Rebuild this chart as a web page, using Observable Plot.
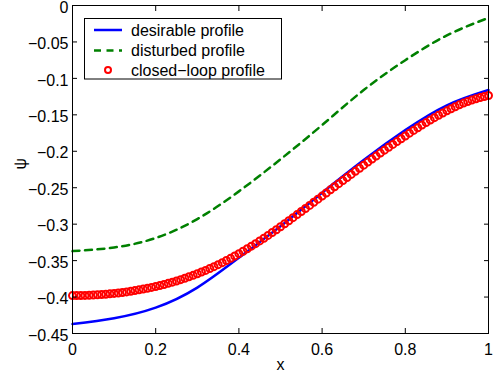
<!DOCTYPE html>
<html><head><meta charset="utf-8">
<script src="https://cdn.jsdelivr.net/npm/d3@7"></script>
<script src="https://cdn.jsdelivr.net/npm/@observablehq/plot@0.6"></script>
<style>
body{margin:0;background:#fff}
#chart{position:relative;width:495px;height:377px}
</style>
</head><body><div id="chart"></div>
<script>
const xTicks = [0, 0.2, 0.4, 0.6, 0.8, 1];
const yTicks = [0, -0.05, -0.1, -0.15, -0.2, -0.25, -0.3, -0.35, -0.4, -0.45];
const seriesNames = ["desirable profile", "disturbed profile", "closed\u2212loop profile"];
const xLabel = "x";
const yLabel = "\u03c8";

const xCoarse = [0, 0.1, 0.2, 0.3, 0.4, 0.5, 0.6, 0.7, 0.8, 0.9, 1];
const desirable = [-0.437, -0.429, -0.4145, -0.387, -0.346, -0.303, -0.257, -0.212, -0.171, -0.137, -0.116];
const disturbed = [-0.337, -0.332, -0.319, -0.293, -0.255, -0.211, -0.164, -0.116, -0.075, -0.041, -0.017];

const xFine = [0,0.01,0.02,0.03,0.04,0.05,0.06,0.07,0.08,0.09,
  0.1,0.11,0.12,0.13,0.14,0.15,0.16,0.17,0.18,0.19,
  0.2,0.21,0.22,0.23,0.24,0.25,0.26,0.27,0.28,0.29,
  0.3,0.31,0.32,0.33,0.34,0.35,0.36,0.37,0.38,0.39,
  0.4,0.41,0.42,0.43,0.44,0.45,0.46,0.47,0.48,0.49,
  0.5,0.51,0.52,0.53,0.54,0.55,0.56,0.57,0.58,0.59,
  0.6,0.61,0.62,0.63,0.64,0.65,0.66,0.67,0.68,0.69,
  0.7,0.71,0.72,0.73,0.74,0.75,0.76,0.77,0.78,0.79,
  0.8,0.81,0.82,0.83,0.84,0.85,0.86,0.87,0.88,0.89,
  0.9,0.91,0.92,0.93,0.94,0.95,0.96,0.97,0.98,0.99,1];
const closedLoop = [-0.3980,-0.3980,-0.3979,-0.3977,-0.3975,-0.3973,-0.3969,-0.3965,-0.3961,-0.3956,
  -0.3950,-0.3944,-0.3937,-0.3929,-0.3920,-0.3911,-0.3901,-0.3891,-0.3880,-0.3868,
  -0.3855,-0.3842,-0.3827,-0.3812,-0.3796,-0.3779,-0.3761,-0.3742,-0.3722,-0.3702,
  -0.3680,-0.3657,-0.3634,-0.3609,-0.3583,-0.3556,-0.3528,-0.3499,-0.3469,-0.3437,
  -0.3405,-0.3372,-0.3337,-0.3302,-0.3267,-0.3230,-0.3193,-0.3154,-0.3115,-0.3076,
  -0.3035,-0.2994,-0.2953,-0.2911,-0.2869,-0.2827,-0.2785,-0.2743,-0.2700,-0.2657,
  -0.2615,-0.2572,-0.2529,-0.2487,-0.2444,-0.2402,-0.2360,-0.2317,-0.2275,-0.2233,
  -0.2190,-0.2148,-0.2107,-0.2066,-0.2025,-0.1985,-0.1945,-0.1906,-0.1867,-0.1828,
  -0.1790,-0.1751,-0.1714,-0.1677,-0.1641,-0.1606,-0.1572,-0.1539,-0.1507,-0.1476,
  -0.1445,-0.1416,-0.1389,-0.1363,-0.1339,-0.1318,-0.1297,-0.1279,-0.1263,-0.1248,-0.1235];

const colors = ["#0000ff", "#008000", "#ff0000"];

const desData = xCoarse.map((x, i) => ({x, y: desirable[i]}));
const disData = xCoarse.map((x, i) => ({x, y: disturbed[i]}));
const clData = xFine.map((x, i) => ({x, y: closedLoop[i]}));

const fmtY = d => d === 0 ? "0" : "\u2212" + String(Math.abs(d));
const fmtX = d => String(d);
const FONT = "'Liberation Sans', Arial, Helvetica, sans-serif";

const chart = Plot.plot({
  width: 495, height: 377,
  marginLeft: 72, marginRight: 7, marginTop: 5, marginBottom: 44,
  style: {fontFamily: FONT, fontSize: "16px", color: "#000", background: "#fff", overflow: "visible"},
  x: {domain: [0, 1]},
  y: {domain: [-0.45, 0]},
  marks: [
    Plot.line(desData, {x: "x", y: "y", stroke: colors[0], strokeWidth: 2.5, curve: "natural"}),
    Plot.line(disData, {x: "x", y: "y", stroke: colors[1], strokeWidth: 2.5, strokeDasharray: "7,5.5", curve: "natural"}),
    Plot.dot(clData, {x: "x", y: "y", r: 3.5, stroke: colors[2], strokeWidth: 2, fill: "none"}),
    Plot.frame({stroke: "#000", strokeWidth: 1}),
    Plot.axisX({ticks: xTicks, tickSize: -5, tickPadding: 15, tickFormat: fmtX, label: null}),
    Plot.axisX({anchor: "top", ticks: xTicks, tickSize: -5, fill: "none", label: null}),
    Plot.axisY({ticks: yTicks, tickSize: -5, fill: "none", label: null}),
    Plot.axisY({ticks: yTicks, tickSize: 0, tickPadding: 4, dy: 2, tickFormat: fmtY, label: null}),
    Plot.axisY({anchor: "right", ticks: yTicks, tickSize: -5, fill: "none", label: null}),
    Plot.text([xLabel], {frameAnchor: "bottom", dy: 31, lineAnchor: "middle", fontSize: 16, fill: "#000"}),
    Plot.text([yLabel], {frameAnchor: "left", dx: -52, rotate: -90, lineAnchor: "middle", fontSize: 16, fill: "#000"})
  ]
});
document.getElementById("chart").appendChild(chart);

// legend inside the axes (MATLAB style)
const svg = d3.select(chart);
const lg = svg.append("g").attr("font-family", FONT).attr("font-size", 16).attr("text-anchor", "start");
lg.append("rect").attr("x", 84.5).attr("y", 18.5).attr("width", 197).attr("height", 60.5)
  .attr("fill", "#fff").attr("stroke", "#000").attr("stroke-width", 1);
const rowY = [30, 50.5, 70];
seriesNames.forEach((name, i) => {
  const y = rowY[i];
  if (i === 0) lg.append("line").attr("x1", 94).attr("x2", 122).attr("y1", y).attr("y2", y)
    .attr("stroke", colors[0]).attr("stroke-width", 2.5);
  if (i === 1) lg.append("line").attr("x1", 94).attr("x2", 122).attr("y1", y).attr("y2", y)
    .attr("stroke", colors[1]).attr("stroke-width", 2.5).attr("stroke-dasharray", "7,5.5");
  if (i === 2) lg.append("circle").attr("cx", 108).attr("cy", y).attr("r", 3)
    .attr("stroke", colors[2]).attr("stroke-width", 2).attr("fill", "none");
  lg.append("text").attr("x", 131).attr("y", y).attr("dy", "0.35em").attr("text-anchor", "start")
    .attr("fill", "#000").text(name);
});
</script>
</body></html>
